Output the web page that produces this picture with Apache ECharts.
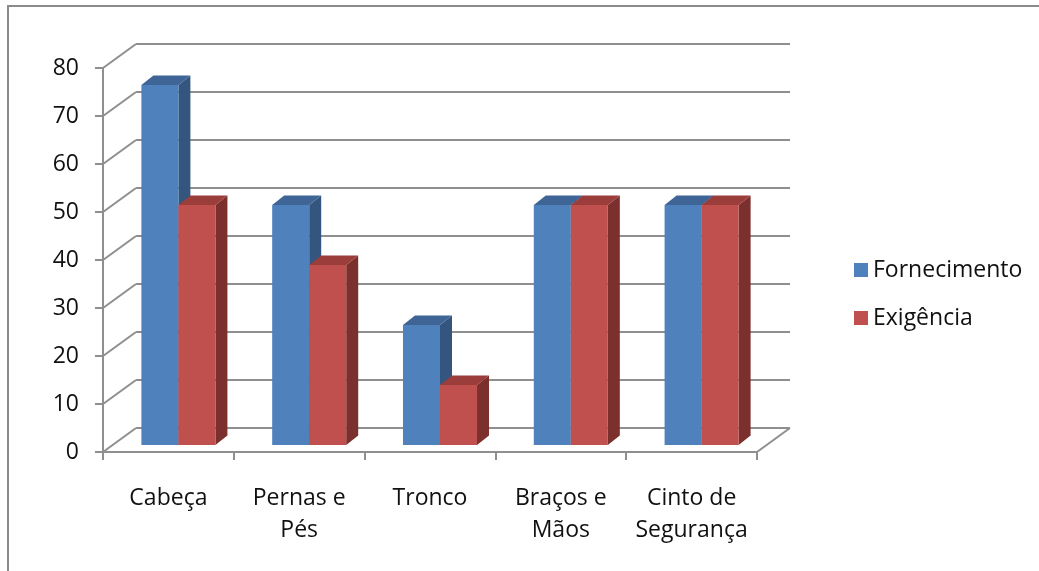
<!DOCTYPE html>
<html>
<head>
<meta charset="utf-8">
<script src="https://cdn.jsdelivr.net/npm/echarts@6/dist/echarts.min.js"></script>
<style>
html,body{margin:0;padding:0;background:#fff;}
#chart{width:1039px;height:571px;}
</style>
</head>
<body>
<div id="chart"></div>
<script>
const categories = ['Cabeça', 'Pernas e\nPés', 'Tronco', 'Braços e\nMãos', 'Cinto de\nSegurança'];
const fornecimento = [75, 50, 25, 50, 50];
const exigencia = [50, 37.5, 12.5, 50, 50];
const yTicks = [0, 10, 20, 30, 40, 50, 60, 70, 80];
const seriesNames = ['Fornecimento', 'Exigência'];

const WALL_DX = 33, WALL_DY = -24;
const BAR_DX = 10, BAR_DY = -7;
const DEPTH_DX = 12, DEPTH_DY = -9.5;
const BAR_RATIO = 0.283;
const GRID_COLOR = '#8f8f8f';
const FONT = 'Open Sans';

const palette = {
  Fornecimento: { front: '#4F81BD', top: '#3E6596', side: '#33557E' },
  'Exigência': { front: '#C0504D', top: '#9A3D3B', side: '#7B302E' }
};

function frameRender(params, api) {
  const cs = params.coordSys;
  const v = api.value(1);
  const y = api.coord([0, v])[1];
  const x0 = cs.x, x1 = cs.x + cs.width;
  const style = { stroke: GRID_COLOR, lineWidth: 2 };
  const children = [
    { type: 'line', shape: { x1: x0, y1: y, x2: x0 + WALL_DX, y2: y + WALL_DY }, style },
    { type: 'line', shape: { x1: x0 + WALL_DX, y1: y + WALL_DY, x2: x1 + WALL_DX, y2: y + WALL_DY }, style }
  ];
  if (v === 0) {
    children.push({ type: 'line', shape: { x1: x1, y1: y, x2: x1 + WALL_DX, y2: y + WALL_DY }, style });
  }
  return { type: 'group', children };
}

function barRender(name, side) {
  const c = palette[name];
  return function (params, api) {
    const idx = api.value(0);
    const val = api.value(1);
    const base = api.coord([idx, 0]);
    const topPt = api.coord([idx, val]);
    const band = api.size([1, 0])[0];
    const w = band * BAR_RATIO;
    const cx = base[0] + BAR_DX;
    const x0 = side < 0 ? cx - w : cx;
    const x1 = x0 + w;
    const yb = base[1] + BAR_DY;
    const yt = topPt[1] + BAR_DY;
    return {
      type: 'group',
      children: [
        { type: 'polygon', shape: { points: [[x1, yt], [x1 + DEPTH_DX, yt + DEPTH_DY], [x1 + DEPTH_DX, yb + DEPTH_DY], [x1, yb]] }, style: { fill: c.side } },
        { type: 'polygon', shape: { points: [[x0, yt], [x1, yt], [x1 + DEPTH_DX, yt + DEPTH_DY], [x0 + DEPTH_DX, yt + DEPTH_DY]] }, style: { fill: c.top } },
        { type: 'rect', shape: { x: x0, y: yt, width: w, height: yb - yt }, style: { fill: c.front } }
      ]
    };
  };
}

const chart = echarts.init(document.getElementById('chart'), null, { renderer: 'canvas' });
chart.setOption({
  animation: false,
  backgroundColor: '#ffffff',
  textStyle: { fontFamily: FONT },
  graphic: [{
    type: 'rect', z: -10, silent: true,
    shape: { x: 8, y: 6, width: 1100, height: 700 },
    style: { fill: 'none', stroke: '#8a8a8a', lineWidth: 2 }
  }],
  grid: { left: 103, top: 68, width: 654, height: 384 },
  legend: {
    orient: 'vertical', left: 849, top: 253, itemGap: 24,
    itemWidth: 14, itemHeight: 14, selectedMode: false,
    textStyle: { fontFamily: FONT, fontSize: 23, color: '#111', lineHeight: 24 },
    data: [
      { name: seriesNames[0], icon: 'rect', itemStyle: { color: palette[seriesNames[0]].front } },
      { name: seriesNames[1], icon: 'rect', itemStyle: { color: palette[seriesNames[1]].front } }
    ]
  },
  xAxis: {
    type: 'category', data: categories,
    axisLine: { show: true, lineStyle: { color: GRID_COLOR, width: 2 } },
    axisTick: { show: true, length: 8, lineStyle: { color: GRID_COLOR, width: 2 } },
    axisLabel: { fontFamily: FONT, fontSize: 23, color: '#111', lineHeight: 32, margin: 30, interval: 0 },
    splitLine: { show: false }
  },
  yAxis: {
    type: 'value', min: 0, max: 80, interval: 10,
    axisLine: { show: true, lineStyle: { color: GRID_COLOR, width: 2 } },
    axisTick: { show: true, length: 8, lineStyle: { color: GRID_COLOR, width: 2 } },
    axisLabel: { fontFamily: FONT, fontSize: 23, color: '#111', margin: 24 },
    splitLine: { show: false }
  },
  series: [
    {
      type: 'custom', name: '__frame', silent: true, clip: false, z: 1,
      renderItem: frameRender,
      data: yTicks.map(v => [0, v])
    },
    {
      type: 'custom', name: seriesNames[0], silent: true, clip: false, z: 2,
      itemStyle: { color: palette[seriesNames[0]].front },
      renderItem: barRender(seriesNames[0], -1),
      data: fornecimento.map((v, i) => [i, v])
    },
    {
      type: 'custom', name: seriesNames[1], silent: true, clip: false, z: 3,
      itemStyle: { color: palette[seriesNames[1]].front },
      renderItem: barRender(seriesNames[1], 1),
      data: exigencia.map((v, i) => [i, v])
    }
  ]
});
</script>
</body>
</html>
